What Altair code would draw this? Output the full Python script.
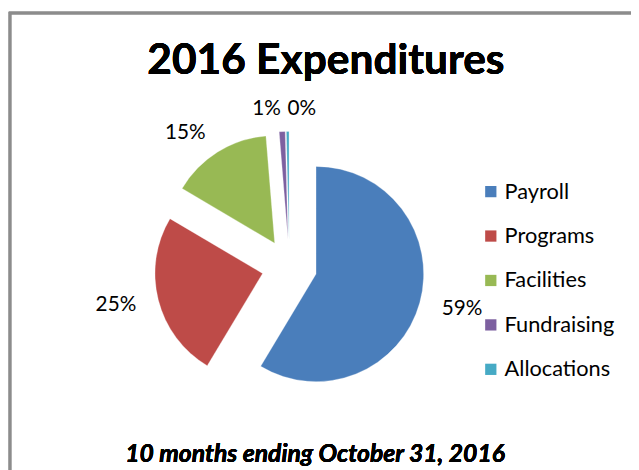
import altair as alt
import pandas as pd

# ---- data ----
categories = ["Payroll", "Programs", "Facilities", "Fundraising", "Allocations"]
values = [58.6, 24.9, 15.2, 0.9, 0.4]
colors = ["#4A7EBB", "#BE4B48", "#98B954", "#7D60A0", "#46AAC5"]
title_text = "2016 Expenditures"
subtitle_text = "10 months ending October 31, 2016"

# ---- layout constants (plot-area pixels) ----
W, H = 631, 462
CX, CY = 285, 259
R = 109
EXPLODE = 28
LABEL_R = 160
FONT = "Lato"

df = pd.DataFrame({"category": categories, "value": values,
                   "order": list(range(len(categories)))})

base = (
    alt.Chart(df)
    .transform_joinaggregate(total="sum(value)")
    .transform_window(cum="sum(value)", sort=[alt.SortField("order")], frame=[None, 0])
    .transform_calculate(
        t0="2*PI*(datum.cum - datum.value)/datum.total",
        t1="2*PI*datum.cum/datum.total",
        mid="PI*(2*datum.cum - datum.value)/datum.total",
        pct="datum.value/datum.total",
    )
    .transform_calculate(
        px=f"{CX} + {EXPLODE}*sin(datum.mid)",
        py=f"{CY} - {EXPLODE}*cos(datum.mid)",
        lx=f"{CX} + {LABEL_R}*sin(datum.mid)",
        ly=f"{CY} - {LABEL_R}*cos(datum.mid)",
        side="sin(datum.mid) > -0.03 ? 'left' : 'right'",
        label="format(datum.pct, '.0%')",
    )
)

xs = alt.X("px:Q", scale=None, axis=None)
ys = alt.Y("py:Q", scale=None, axis=None)

pie = base.mark_arc(radius=R, stroke="#ffffff", strokeWidth=0.5, strokeOpacity=0.6).encode(
    theta=alt.Theta("t0:Q", scale=None),
    theta2="t1:Q",
    x=xs,
    y=ys,
    color=alt.Color(
        "category:N",
        scale=alt.Scale(domain=categories, range=colors),
        legend=alt.Legend(
            title=None,
            orient="none",
            legendX=478,
            legendY=172,
            symbolType="square",
            symbolSize=130,
            symbolStrokeWidth=0,
            labelFont=FONT,
            labelFontSize=22,
            labelColor="#000000",
            labelOffset=3,
            rowPadding=23,
            padding=0,
        ),
    ),
    order=alt.Order("order:Q"),
)

lab_left = base.transform_filter("datum.side == 'left'").mark_text(
    align="left", baseline="middle", font=FONT, fontSize=21, color="#000000"
).encode(x=alt.X("lx:Q", scale=None, axis=None), y=alt.Y("ly:Q", scale=None, axis=None), text="label:N")

lab_right = base.transform_filter("datum.side == 'right'").mark_text(
    align="right", baseline="middle", font=FONT, fontSize=21, color="#000000"
).encode(x=alt.X("lx:Q", scale=None, axis=None), y=alt.Y("ly:Q", scale=None, axis=None), text="label:N")

border = alt.Chart(df).mark_rect(fill=None, stroke="#8c8c8c", strokeWidth=2.5).encode(
    x=alt.value(2), x2=alt.value(W + 20), y=alt.value(2), y2=alt.value(H + 20)
)

title = alt.Chart(df).mark_text(
    text=title_text, align="center", baseline="alphabetic", font=FONT,
    fontSize=43, fontWeight="bold", color="#000000"
).encode(x=alt.value(322), y=alt.value(64))

subtitle = alt.Chart(df).mark_text(
    text=subtitle_text, align="center", baseline="alphabetic", font=FONT,
    fontSize=25, fontWeight="bold", fontStyle="italic", color="#000000"
).encode(x=alt.value(311), y=alt.value(457))

chart = alt.layer(border, pie, lab_left, lab_right, title, subtitle).properties(
    width=W, height=H, autosize=alt.AutoSizeParams(type="none"), padding=0
).configure_view(stroke=None)

chart.save("out.html", embed_options={"renderer": "svg", "actions": False})
